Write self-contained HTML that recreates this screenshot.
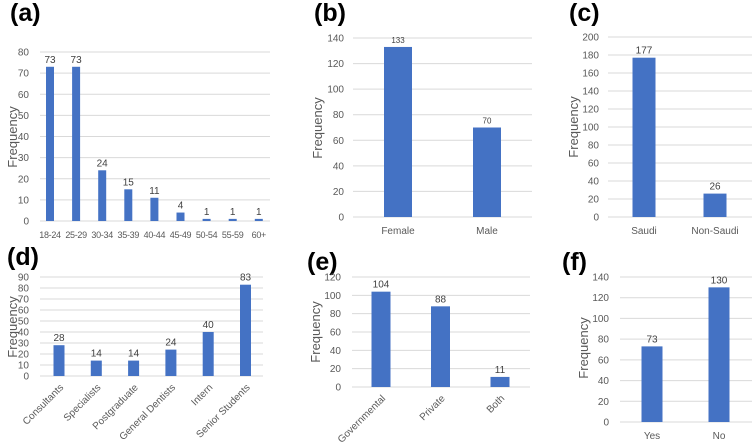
<!DOCTYPE html>
<html><head><meta charset="utf-8">
<style>
html,body{margin:0;padding:0;background:#fff;}
svg{display:block;font-family:"Liberation Sans",Arial,sans-serif;}
.tick{fill:#595959;font-size:10px;}
.cat{fill:#595959;font-size:10px;}
.val{fill:#404040;font-size:10px;}
.ttl{fill:#000;font-size:25px;font-weight:bold;}
.yt{fill:#595959;font-size:13px;}
</style></head>
<body>
<svg id="root" width="753" height="442" viewBox="0 0 753 442"></svg>
<script>
// (a) Age groups
const catsA = ["18-24","25-29","30-34","35-39","40-44","45-49","50-54","55-59","60+"];
const valsA = [73,73,24,15,11,4,1,1,1];
const ticksA = [0,10,20,30,40,50,60,70,80];
// (b) Gender
const catsB = ["Female","Male"];
const valsB = [133,70];
const ticksB = [0,20,40,60,80,100,120,140];
// (c) Nationality
const catsC = ["Saudi","Non-Saudi"];
const valsC = [177,26];
const ticksC = [0,20,40,60,80,100,120,140,160,180,200];
// (d) Position
const catsD = ["Consultants","Specialists","Postgraduate","General Dentists","Intern","Senior Students"];
const valsD = [28,14,14,24,40,83];
const ticksD = [0,10,20,30,40,50,60,70,80,90];
// (e) Sector
const catsE = ["Governmental","Private","Both"];
const valsE = [104,88,11];
const ticksE = [0,20,40,60,80,100,120];
// (f) Yes/No
const catsF = ["Yes","No"];
const valsF = [73,130];
const ticksF = [0,20,40,60,80,100,120,140];

const NS = "http://www.w3.org/2000/svg";
const root = document.getElementById('root');
function mk(tag, attrs, parent, text){
  const e = document.createElementNS(NS, tag);
  for (const k in attrs) e.setAttribute(k, attrs[k]);
  if (text !== undefined) e.textContent = text;
  parent.appendChild(e);
  return e;
}

function chart(cfg){
  const g = mk('g', {}, root);
  
  
  const ymax = cfg.ticks[cfg.ticks.length-1];
  const yScale = v => cfg.y0 - (v / ymax) * (cfg.y0 - cfg.yTop);
  const xScale = i => cfg.firstX + i * cfg.step;
  const t = mk('text', {x: cfg.titleX, y: cfg.titleY, class: 'ttl'}, g, cfg.title);
  
  
  cfg.ticks.forEach(v => {
    const y = yScale(v);
    const l = mk('line', {x1: cfg.gx1, x2: cfg.gx2, y1: y, y2: y, stroke: '#d9d9d9', 'stroke-width': 1}, g);
    
    
    const tl = mk('text', {x: cfg.tickX, y: y + 3.5, 'text-anchor': 'end', class: 'tick'}, g, String(v));
    
    
  });
  const yt = mk('text', {x: 0, y: 0, class: 'yt', 'text-anchor': 'middle',
    transform: `translate(${cfg.ytX},${cfg.ytY}) rotate(-90)`}, g, 'Frequency');
  
  
  cfg.vals.forEach((v, i) => {
    const cx = xScale(i);
    const y = yScale(v);
    const r = mk('rect', {x: cx - cfg.bw/2, y: y, width: cfg.bw, height: cfg.y0 - y, fill: '#4472C4'}, g);
    
    
    const vl = mk('text', {x: cx, y: y - 4, 'text-anchor': 'middle', class: 'val', style: cfg.valSize ? `font-size:${cfg.valSize}px` : ''}, g, String(v));
    
    
    let cl;
    if (cfg.rot) {
      cl = mk('text', {x: 0, y: 0, 'text-anchor': 'end', class: 'cat',
        transform: `translate(${cx + 5},${cfg.catY}) rotate(-45)`}, g, cfg.cats[i]);
    } else {
      cl = mk('text', {x: cx, y: cfg.catY, 'text-anchor': 'middle', class: 'cat', style: cfg.catSize ? `font-size:${cfg.catSize}px;letter-spacing:-0.3px` : ''}, g, cfg.cats[i]);
    }
    
    
  });
}

chart({name:'chart-a-age', title:'(a)', titleX:10, titleY:21, cats:catsA, vals:valsA, ticks:ticksA,
  y0:221, yTop:52, gx1:40, gx2:270, firstX:50, step:26.1, bw:8, tickX:29, ytX:17, ytY:137, catY:238, catSize:9});
chart({name:'chart-b-gender', title:'(b)', titleX:314, titleY:21, cats:catsB, vals:valsB, ticks:ticksB,
  y0:217, yTop:38, gx1:353, gx2:532, firstX:398, step:89, bw:28, tickX:344, ytX:322, ytY:128, catY:234, valSize:8});
chart({name:'chart-c-nationality', title:'(c)', titleX:569, titleY:21, cats:catsC, vals:valsC, ticks:ticksC,
  y0:217, yTop:37, gx1:608, gx2:752, firstX:644, step:71, bw:23, tickX:599, ytX:578, ytY:127, catY:234});
chart({name:'chart-d-position', title:'(d)', titleX:7, titleY:265, cats:catsD, vals:valsD, ticks:ticksD,
  y0:376, yTop:277, gx1:40, gx2:263, firstX:59, step:37.3, bw:11, tickX:29, ytX:17, ytY:327, catY:388, rot:true});
chart({name:'chart-e-sector', title:'(e)', titleX:307, titleY:270, cats:catsE, vals:valsE, ticks:ticksE,
  y0:387, yTop:277, gx1:352, gx2:530, firstX:381, step:59.5, bw:19, tickX:341, ytX:320, ytY:332, catY:399, rot:true});
chart({name:'chart-f-yes-no', title:'(f)', titleX:562, titleY:270, cats:catsF, vals:valsF, ticks:ticksF,
  y0:422, yTop:277, gx1:620, gx2:752, firstX:652, step:67, bw:21, tickX:609, ytX:588, ytY:348, catY:439});
</script>
</body></html>
